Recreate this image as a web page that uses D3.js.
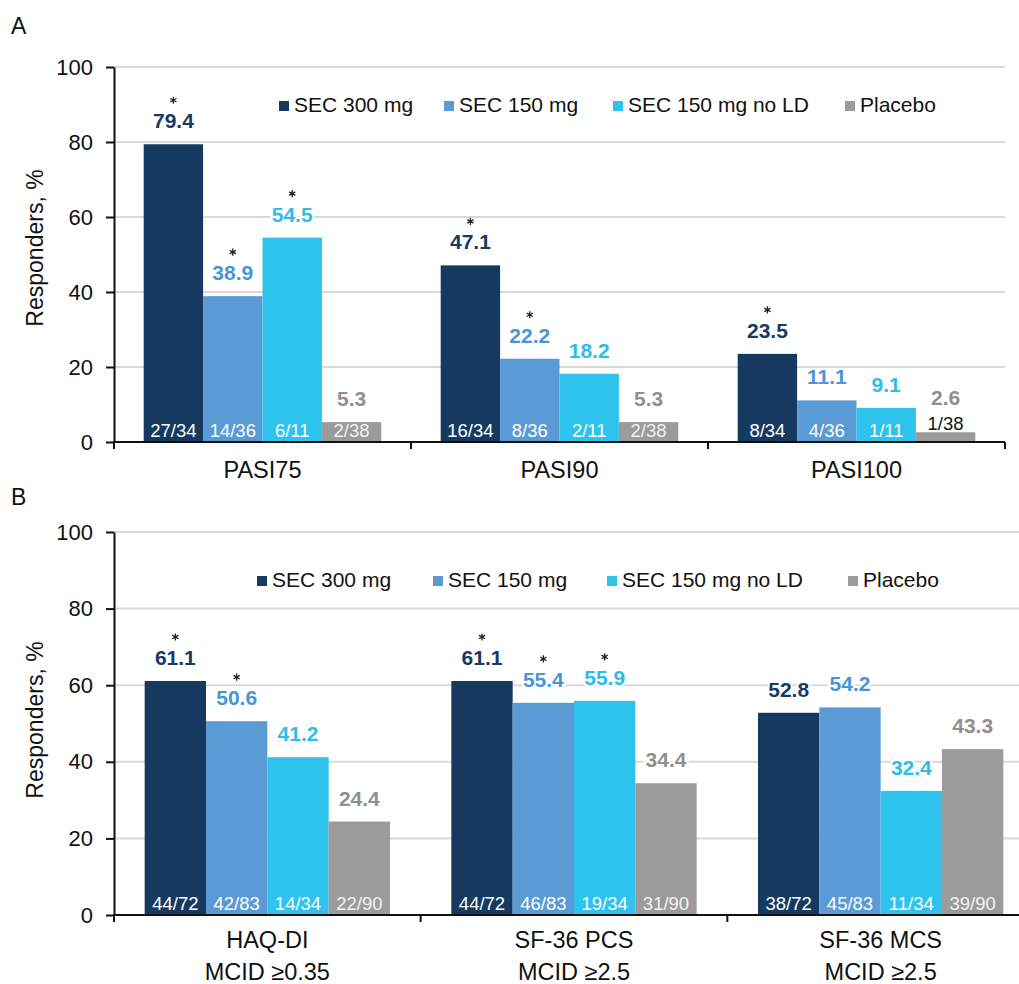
<!DOCTYPE html>
<html>
<head>
<meta charset="utf-8">
<script src="https://cdn.jsdelivr.net/npm/d3@7"></script>
<style>
  body { margin: 0; background: #fff; }
  svg { display: block; font-family: "Liberation Sans", Arial, sans-serif; }
</style>
</head>
<body>
<div id="chart"></div>
<script>
// series and colours
const seriesNames = ["SEC 300 mg", "SEC 150 mg", "SEC 150 mg no LD", "Placebo"];
const barColors = ["#163a5f", "#5b9bd5", "#2ec3ec", "#9b9b9b"];
const labelColors = ["#173a66", "#4a95d6", "#2ebde9", "#8f8f8f"];
const yTicks = [0, 20, 40, 60, 80, 100];

// panel A
const catsA = ["PASI75", "PASI90", "PASI100"];
const valuesA = [
  [79.4, 47.1, 23.5],
  [38.9, 22.2, 11.1],
  [54.5, 18.2, 9.1],
  [5.3, 5.3, 2.6]
];
const fractionsA = [
  ["27/34", "16/34", "8/34"],
  ["14/36", "8/36", "4/36"],
  ["6/11", "2/11", "1/11"],
  ["2/38", "2/38", "1/38"]
];
const starsA = [
  [1, 1, 1],
  [1, 1, 0],
  [1, 0, 0],
  [0, 0, 0]
];

// panel B
const catsB = [["HAQ-DI", "MCID ≥0.35"], ["SF-36 PCS", "MCID ≥2.5"], ["SF-36 MCS", "MCID ≥2.5"]];
const valuesB = [
  [61.1, 61.1, 52.8],
  [50.6, 55.4, 54.2],
  [41.2, 55.9, 32.4],
  [24.4, 34.4, 43.3]
];
const fractionsB = [
  ["44/72", "44/72", "38/72"],
  ["42/83", "46/83", "45/83"],
  ["14/34", "19/34", "11/34"],
  ["22/90", "31/90", "39/90"]
];
const starsB = [
  [1, 1, 0],
  [1, 1, 0],
  [0, 1, 0],
  [0, 0, 0]
];

const W = 1019, H = 984;
const svg = d3.select("#chart").append("svg")
  .attr("width", W)
  .attr("height", H);
svg.append("rect").attr("width", W).attr("height", H).attr("fill", "#fff");

const star = d3.symbol().type(d3.symbolAsterisk).size(36);

function drawPanel(p) {
  const g = svg.append("g");

  const y = d3.scaleLinear().domain([0, 100]).range([p.bottom, p.top]);
  const x0 = d3.scaleBand().domain(d3.range(p.cats.length)).range([p.left, p.right]);
  const bw = x0.bandwidth();
  const x1 = d3.scaleBand().domain(d3.range(seriesNames.length)).range([bw * 0.1, bw * 0.9]);

  // panel letter
  g.append("text")
    .attr("x", 11).attr("y", p.letterY)
    .attr("font-size", 23)
    .attr("fill", "#111")
    .text(p.letter);

  // grid
  g.selectAll("line.grid")
    .data(yTicks.filter(d => d > 0))
    .enter().append("line")
    .attr("class", "grid")
    .attr("x1", p.left).attr("x2", p.gridRight)
    .attr("y1", d => y(d)).attr("y2", d => y(d))
    .attr("stroke", "#d9d9d9")
    .attr("stroke-width", 2);

  // flatten data
  const bars = [];
  p.cats.forEach((c, ci) => {
    seriesNames.forEach((s, si) => {
      bars.push({ ci, si, v: p.values[si][ci], f: p.fractions[si][ci], star: p.stars[si][ci] });
    });
  });

  g.selectAll("rect.bar")
    .data(bars)
    .enter().append("rect")
    .attr("class", "bar")
    .attr("x", d => x0(d.ci) + x1(d.si))
    .attr("width", x1.bandwidth())
    .attr("y", d => y(d.v))
    .attr("height", d => y(0) - y(d.v))
    .attr("fill", d => barColors[d.si]);

  // fraction labels
  bars.forEach(d => {
    const small = (y(0) - y(d.v)) < 18;
    d.small = small;
    g.append("text")
      .attr("x", x0(d.ci) + x1(d.si) + x1.bandwidth() / 2)
      .attr("y", small ? y(d.v) - 2 : y(0) - 5)
      .attr("text-anchor", "middle")
      .attr("font-size", 18.5)
      .attr("fill", small ? "#111" : (d.si === 3 ? "#f2f2f2" : "#fff"))
      .text(d.f);
  });

  // value labels and stars
  bars.forEach(d => {
    const cx = x0(d.ci) + x1(d.si) + x1.bandwidth() / 2;
    const base = d.small ? y(d.v) - 27 : y(d.v) - 16;
    g.append("text")
      .attr("x", cx).attr("y", base)
      .attr("text-anchor", "middle")
      .attr("font-size", 21)
      .attr("font-weight", "bold")
      .attr("fill", labelColors[d.si])
      .attr("stroke", "#fff").attr("stroke-width", 4)
      .attr("paint-order", "stroke")
      .text(d.v.toFixed(1));
    if (d.star) {
      g.append("path")
        .attr("d", star)
        .attr("transform", `translate(${cx},${base - 28})`)
        .attr("fill", "none")
        .attr("stroke", "#222")
        .attr("stroke-width", 1.3);
    }
  });

  // y axis
  const yAxis = g.append("g")
    .attr("transform", `translate(${p.left},0)`)
    .call(d3.axisLeft(y).tickValues(yTicks).tickSize(8).tickSizeOuter(0).tickPadding(13));
  yAxis.selectAll("path, line").attr("stroke", "#111").attr("stroke-width", 2);
  yAxis.selectAll("text")
    .attr("font-size", 22)
    .attr("font-family", "Liberation Sans, Arial, sans-serif")
    .attr("fill", "#111");

  // y title
  g.append("text")
    .attr("transform", `translate(43,${p.titleY}) rotate(-90)`)
    .attr("text-anchor", "middle")
    .attr("font-size", 23)
    .attr("fill", "#111")
    .text("Responders, %");

  // x axis
  g.append("line")
    .attr("x1", p.left - 1).attr("x2", p.right)
    .attr("y1", y(0)).attr("y2", y(0))
    .attr("stroke", "#111").attr("stroke-width", 2);
  g.selectAll("line.xtick")
    .data(d3.range(p.cats.length + 1))
    .enter().append("line")
    .attr("class", "xtick")
    .attr("x1", d => p.left + d * bw).attr("x2", d => p.left + d * bw)
    .attr("y1", y(0)).attr("y2", y(0) + 7)
    .attr("stroke", "#111").attr("stroke-width", 2);

  // category labels
  p.cats.forEach((c, ci) => {
    const lines = Array.isArray(c) ? c : [c];
    const t = g.append("text")
      .attr("text-anchor", "middle")
      .attr("font-size", 23.5)
      .attr("fill", "#111");
    lines.forEach((l, li) => {
      t.append("tspan")
        .attr("x", x0(ci) + bw / 2)
        .attr("y", y(0) + p.catOffset + li * 32)
        .text(l);
    });
  });

  // legend
  seriesNames.forEach((s, si) => {
    g.append("rect")
      .attr("x", p.legendX[si]).attr("y", p.legendY - 11)
      .attr("width", 10).attr("height", 10)
      .attr("fill", barColors[si]);
    g.append("text")
      .attr("x", p.legendX[si] + 15).attr("y", p.legendY)
      .attr("font-size", 21)
      .attr("fill", "#111")
      .text(s);
  });
}

drawPanel({
  letter: "A", letterY: 34,
  cats: catsA, values: valuesA, fractions: fractionsA, stars: starsA,
  top: 67, bottom: 442, left: 114, right: 1005, gridRight: 1005,
  titleY: 248, catOffset: 36,
  legendX: [279, 444, 613, 845], legendY: 112
});

drawPanel({
  letter: "B", letterY: 505,
  cats: catsB, values: valuesB, fractions: fractionsB, stars: starsB,
  top: 532, bottom: 915, left: 114, right: 1034, gridRight: 1019,
  titleY: 720, catOffset: 33,
  legendX: [257, 433, 607, 848], legendY: 587
});
</script>
</body>
</html>
